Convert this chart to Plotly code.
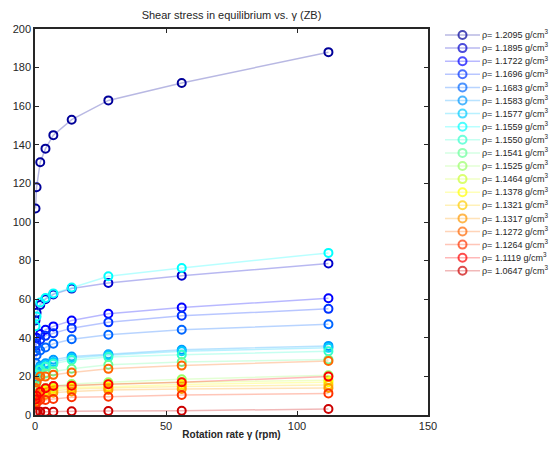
import plotly.graph_objects as go

# ---------------- data ----------------
rotation_rpm = [0.2, 0.6, 2, 4, 7, 14, 28, 56, 112]

densities = ['1.2095', '1.1895', '1.1722', '1.1696', '1.1683', '1.1583', '1.1577',
             '1.1559', '1.1550', '1.1541', '1.1525', '1.1464', '1.1378', '1.1321',
             '1.1317', '1.1272', '1.1264', '1.1119', '1.0647']

tau_12095 = [107, 118, 131, 138, 145, 153, 163, 172, 188]
tau_11895 = [49, 53, 57, 60, 62.5, 65.5, 68.4, 72.2, 78.5]
tau_11722 = [36, 40, 42, 44.2, 45.9, 49, 52.5, 55.7, 60.5]
tau_11696 = [33, 37, 39, 41, 42.4, 45, 48, 51.4, 55]
tau_11683 = [27, 31, 33.4, 35, 36.9, 39.3, 41.6, 44.2, 47]
tau_11583 = [20, 23, 25.5, 26.8, 28.6, 30.3, 31.5, 33.8, 35.8]
tau_11577 = [19, 22, 24.5, 26, 27.5, 29.5, 31, 33, 34.8]
tau_11559 = [46, 51, 58.3, 60.6, 63, 66, 71.9, 76.2, 84]
tau_11550 = [18, 21, 23.5, 25, 26.5, 28.5, 30, 31.2, 33]
tau_11541 = [15, 17.5, 20, 21.5, 22.5, 24, 26, 27.5, 28.8]
tau_11525 = [9, 11, 13, 14, 15, 16, 17, 18.5, 20.6]
tau_11464 = [8, 10, 12, 13, 14, 15, 16, 17, 18]
tau_11378 = [7.5, 9.5, 11.5, 12.5, 13.5, 14.2, 14.7, 15.8, 17]
tau_11321 = [7, 9, 10.5, 11.5, 12.5, 13.5, 14, 14.8, 15.5]
tau_11317 = [6.5, 8, 9.5, 10.5, 11.5, 12.2, 13, 13.5, 14]
tau_11272 = [14, 17, 19.9, 19.9, 20.8, 22, 23.9, 25.6, 28]
tau_11264 = [5, 6.5, 7.8, 7.8, 8.3, 9.2, 9.5, 10.4, 11.2]
tau_11119 = [8, 10, 12.1, 13.9, 15, 15.2, 15.9, 17, 19.9]
tau_10647 = [1.5, 1.6, 1.7, 1.7, 1.7, 1.9, 2.1, 2.2, 3.1]

series = [tau_12095, tau_11895, tau_11722, tau_11696, tau_11683, tau_11583, tau_11577,
          tau_11559, tau_11550, tau_11541, tau_11525, tau_11464, tau_11378, tau_11321,
          tau_11317, tau_11272, tau_11264, tau_11119, tau_10647]

x_ticks = [0, 50, 100, 150]
y_ticks = list(range(0, 201, 20))


# ---------------- colours (MATLAB jet(19)) ----------------
def jet(m):
    import math
    n = math.ceil(m / 4)
    u = [i / n for i in range(1, n + 1)] + [1] * (n - 1) + [i / n for i in range(n, 0, -1)]
    g0 = math.ceil(n / 2) - (1 if m % 4 == 1 else 0)
    cols = [[0.0, 0.0, 0.0] for _ in range(m)]
    for k, val in enumerate(u):
        gi = g0 + k + 1
        ri = gi + n
        bi = gi - n
        if 1 <= ri <= m:
            cols[ri - 1][0] = val
        if 1 <= gi <= m:
            cols[gi - 1][1] = val
        if 1 <= bi <= m:
            cols[bi - 1][2] = val
    return cols


cmap = jet(len(densities))


def rgba(c, a):
    return 'rgba(%d,%d,%d,%.2f)' % (round(c[0] * 255), round(c[1] * 255), round(c[2] * 255), a)


FONT = 'Liberation Sans, Arial, Helvetica, sans-serif'
TXT = '#262626'

fig = go.Figure()

labels = ['ρ= %s g/cm<sup>3</sup>' % d for d in densities]

for i, (lab, ys) in enumerate(zip(labels, series)):
    c = cmap[i]
    fig.add_trace(go.Scatter(
        x=rotation_rpm, y=ys, mode='lines+markers', showlegend=False,
        line=dict(color=rgba(c, 0.28), width=1.5),
        marker=dict(symbol='circle-open', size=8, color=rgba(c, 1), line=dict(width=2, color=rgba(c, 1))),
        xaxis='x', yaxis='y', name=lab,
    ))

# legend drawn as a small category axis on the right
for i, lab in enumerate(labels):
    c = cmap[i]
    fig.add_trace(go.Scatter(
        x=[0, 1, 2], y=[lab, lab, lab], mode='lines+markers', showlegend=False,
        line=dict(color=rgba(c, 0.28), width=1.5),
        marker=dict(symbol='circle-open', size=[0, 8, 0], color=rgba(c, 1), line=dict(width=2, color=rgba(c, 1))),
        xaxis='x2', yaxis='y2', hoverinfo='skip', cliponaxis=False,
    ))

# page has an 8px body margin: figure pixel = page pixel - OFF
OFF = 8
W, H = 558 - OFF, 450 - OFF
ml, mr, mt, mb = 35 - OFF, 0, 2, 35
pw = W - ml - mr
ph = H - mt - mb
plot_right = 428
plot_top = 29


def xd(px):  # px: page pixel
    return (px - OFF - ml) / pw


def yd(py):  # py: page pixel
    return (H - mb - (py - OFF)) / ph


step = 13.1
leg_top = 35
n = len(labels)

fig.update_layout(
    width=W, height=H,
    margin=dict(l=ml, r=mr, t=mt, b=mb, autoexpand=False),
    paper_bgcolor='white', plot_bgcolor='white',
    font=dict(family=FONT, size=11, color=TXT),
    showlegend=False,
    title=dict(text='Shear stress in equilibrium vs. γ (ZB)', x=xd((35 + plot_right) / 2), xref='paper',
               xanchor='center', y=1 - (15 - OFF) / H, yref='container', yanchor='middle', automargin=False,
               font=dict(family=FONT, size=11, color=TXT)),
    xaxis=dict(domain=[0, xd(plot_right)], range=[0, 150], tickvals=x_ticks,
               ticks='inside', ticklen=4, tickwidth=1, tickcolor=TXT, automargin=False,
               showline=True, linecolor=TXT, linewidth=1.5, mirror='ticks',
               showgrid=False, zeroline=False,
               title=dict(text='<b>Rotation rate γ (rpm)</b>', standoff=0,
                          font=dict(family=FONT, size=10, color=TXT)),
               tickfont=dict(size=11, color=TXT), anchor='y'),
    yaxis=dict(domain=[0, yd(plot_top)], range=[0, 200], tickvals=y_ticks,
               ticks='inside', ticklen=4, tickwidth=1, tickcolor=TXT, automargin=False,
               showline=True, linecolor=TXT, linewidth=1.5, mirror='ticks',
               showgrid=False, zeroline=False, tickfont=dict(size=11, color=TXT), anchor='x'),
    xaxis2=dict(domain=[xd(445), xd(480)], range=[0, 2], visible=False, anchor='y2', automargin=False),
    yaxis2=dict(domain=[yd(leg_top + (n - 1) * step + step / 2), yd(leg_top - step / 2)],
                type='category', categoryorder='array', categoryarray=labels,
                range=[n - 0.5, -0.5], side='right', anchor='x2', automargin=False,
                showline=False, showgrid=False, zeroline=False, ticks='',
                tickfont=dict(size=9, color=TXT), ticklabelstandoff=1),
)

fig.write_html('out.html')
